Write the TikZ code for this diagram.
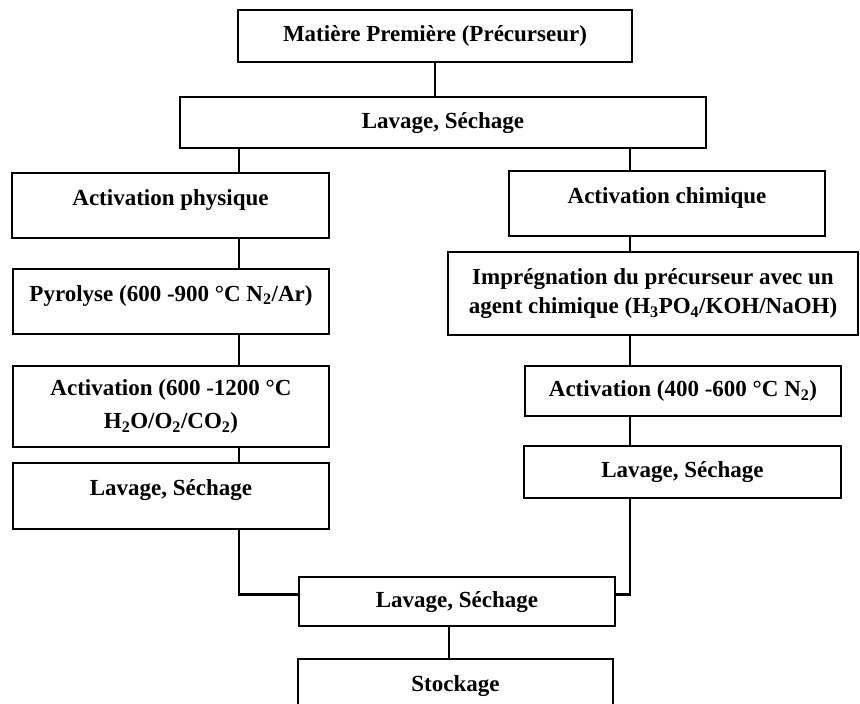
\documentclass[tikz,border=0pt]{standalone}
\usepackage{fontspec}
\setmainfont{Liberation Serif}
\usepackage{tikz}
\tikzset{
	plainbox/.style={draw, line width=2.8pt, align=center, font=\bfseries\fontsize{23}{29}\selectfont, inner sep=0pt},
	box/.style={plainbox, text height=16pt, text depth=5pt},
	tallbox/.style={box, text depth=17pt},
	link/.style={line width=2.2pt}
}

\begin{document}
\begin{tikzpicture}[x=1pt, y=-1pt]
			\path[use as bounding box, fill=white] (0, 0) rectangle (860, 704);
			\clip (0, 0) rectangle (860, 704);
			% columns of the connectors
			\coordinate (colL) at (239, 0);
			\coordinate (colR) at (630, 0);
			\coordinate (colB) at (449, 0);
			\node[box, minimum width=394pt, minimum height=52pt] (raw) at (435, 36) {Matière Première (Précurseur)};
			\node[box, minimum width=526pt, minimum height=51pt] (wash) at (443, 122.5) {Lavage, Séchage};
			% physical route
			\node[tallbox, minimum width=317pt, minimum height=65pt] (phys) at (170.5, 205.5) {Activation physique};
			\node[tallbox, minimum width=316pt, minimum height=65pt] (pyro) at (171, 301.5) {Pyrolyse (600 -900 °C N\textsubscript{2}/Ar)};
			\node[plainbox, minimum width=316pt, minimum height=81pt] (actPhys) at (171, 406.5) {Activation (600 -1200 °C\\[4pt]H\textsubscript{2}O/O\textsubscript{2}/CO\textsubscript{2})};
			\node[tallbox, minimum width=316pt, minimum height=66pt] (washPhys) at (171, 496) {Lavage, Séchage};
			% chemical route
			\node[tallbox, minimum width=316pt, minimum height=65pt] (chim) at (667, 203.5) {Activation chimique};
			\node[plainbox, minimum width=410pt, minimum height=83pt] (impreg) at (653, 293.5) {Imprégnation du précurseur avec un\\agent chimique (H\textsubscript{3}PO\textsubscript{4}/KOH/NaOH)};
			\node[box, minimum width=316pt, minimum height=50pt] (actChim) at (683, 391) {Activation (400 -600 °C N\textsubscript{2})};
			\node[box, minimum width=317pt, minimum height=52pt] (washChim) at (682.5, 472) {Lavage, Séchage};
			% end
			\node[box, minimum width=316pt, minimum height=49pt] (washEnd) at (457, 601.5) {Lavage, Séchage};
			\node[tallbox, minimum width=315pt, minimum height=65pt] (store) at (455.5, 691.5) {Stockage};
			\draw[link] (raw.south) -- (raw.south |- wash.north);
			\draw[link] (wash.south -| colL) -- (phys.north -| colL);
			\draw[link] (phys.south -| colL) -- (pyro.north -| colL);
			\draw[link] (pyro.south -| colL) -- (actPhys.north -| colL);
			\draw[link] (actPhys.south -| colL) -- (washPhys.north -| colL);
			\draw[link] (wash.south -| colR) -- (chim.north -| colR);
			\draw[link] (chim.south -| colR) -- (impreg.north -| colR);
			\draw[link] (impreg.south -| colR) -- (actChim.north -| colR);
			\draw[link] (actChim.south -| colR) -- (washChim.north -| colR);
			\draw[link] (washPhys.south -| colL) |- ([yshift=7pt]washEnd.west);
			\draw[link] (washChim.south -| colR) |- ([yshift=7pt]washEnd.east);
			\draw[link] (washEnd.south -| colB) -- (store.north -| colB);
		\end{tikzpicture}
\end{document}
